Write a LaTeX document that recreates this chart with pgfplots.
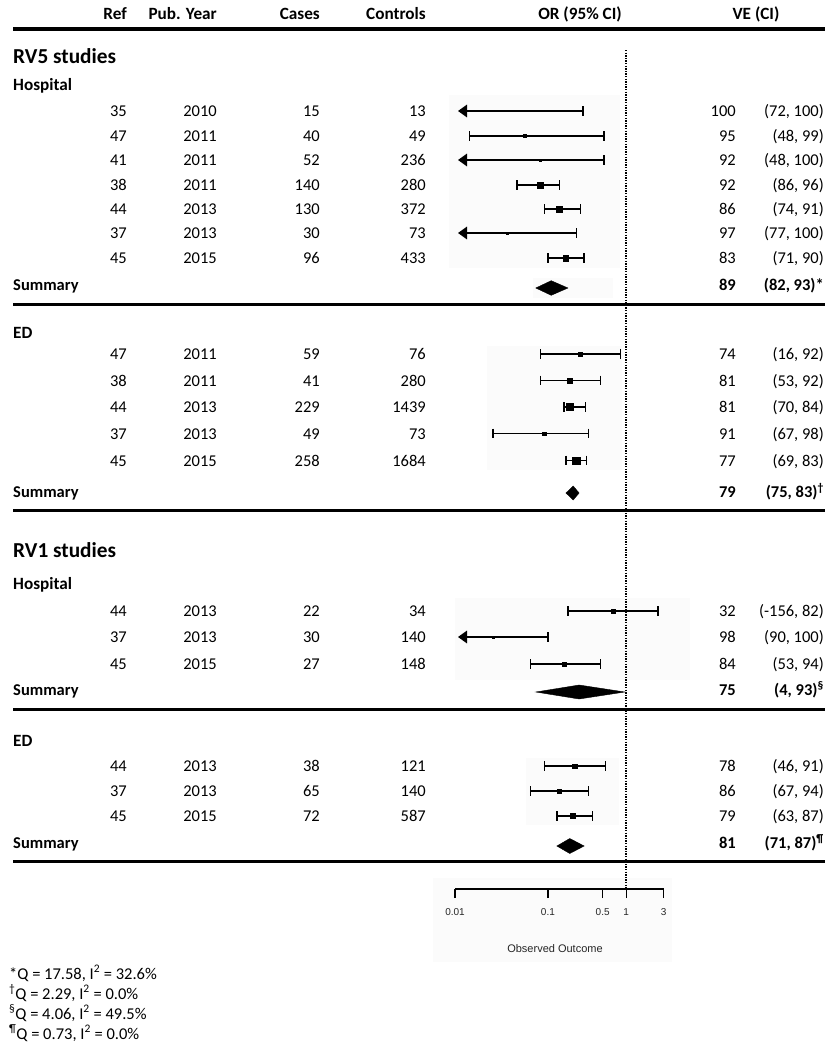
\documentclass[border=0pt]{standalone}
\usepackage{pgfplots}
\pgfplotsset{compat=1.18}
\usepackage{pgfplotstable}
\usepackage{fontspec}
\setmainfont{Carlito}
\newfontfamily\arialf{Liberation Sans}
\usetikzlibrary{arrows.meta}
\newcommand\fs{\fontsize{16.5}{19}\selectfont}
\newcommand\fh{\fontsize{17.2}{20}\selectfont\bfseries}

\pgfplotstableread{
or y ms
0.05 -136 1.6
0.08 -160 1.2
0.08 -185 2.7
0.14 -209 2.9
0.03 -233 1.2
0.17 -258 2.7
0.26 -354 2.1
0.19 -380.5 2.3
0.19 -407 3.5
0.09 -433.5 1.8
0.23 -460.5 3.6
0.68 -611 1.8
0.02 -637 1.2
0.16 -664 2.1
0.22 -766 2.3
0.14 -791 2.3
0.21 -816 2.5
}\pts

\newcommand\rw[7]{%
 \node[anchor=base east,inner sep=0] at (127,-#1) {#2};
 \node[anchor=base east,inner sep=0] at (217,-#1) {#3};
 \node[anchor=base east,inner sep=0] at (320,-#1) {#4};
 \node[anchor=base east,inner sep=0] at (426,-#1) {#5};
 \node[anchor=base east,inner sep=0] at (736,-#1) {#6};
 \node[anchor=base east,inner sep=0] at (824,-#1) {#7};}
\newcommand\summ[3]{%
 \node[anchor=base west,inner sep=0,font=\fs\bfseries] at (13,-#1) {Summary};
 \node[anchor=base east,inner sep=0,font=\fs\bfseries] at (736,-#1) {#2};
 \node[anchor=base east,inner sep=0,font=\fs\bfseries] at (824,-#1) {#3};}

\begin{document}
\begin{tikzpicture}[x=1pt,y=1pt,every node/.append style={font=\fs}]
\useasboundingbox (0,0) rectangle (834,-1050);
% faint panels
\fill[black!1.5] (449,-95) rectangle (620,-268);
\fill[black!1.5] (533,-278) rectangle (613,-298);
\fill[black!1.5] (487,-346) rectangle (622,-470);
\fill[black!1.5] (455,-598) rectangle (690,-680);
\fill[black!1.5] (526,-758) rectangle (619,-825);
\fill[black!1.5] (433,-878) rectangle (672,-962);
% rules
\draw[line width=4pt] (13,-29) -- (825,-29);
\draw[line width=3pt] (13,-304) -- (825,-304);
\draw[line width=3pt] (13,-510) -- (825,-510);
\draw[line width=3pt] (13,-709) -- (825,-709);
\draw[line width=3pt] (13,-861) -- (825,-861);
% headers
\node[anchor=base east,inner sep=0,font=\fh] at (127,-19.5) {Ref};
\node[anchor=base east,inner sep=0,font=\fh] at (217,-19.5) {Pub. Year};
\node[anchor=base east,inner sep=0,font=\fh] at (320,-19.5) {Cases};
\node[anchor=base east,inner sep=0,font=\fh] at (426,-19.5) {Controls};
\node[anchor=base,inner sep=0,font=\fh] at (580,-19.5) {OR (95\% CI)};
\node[anchor=base,inner sep=0,font=\fh] at (756,-19.5) {VE (CI)};
% section labels
\node[anchor=base west,inner sep=0,font=\fontsize{21.3}{24}\selectfont\bfseries] at (13,-63) {RV5 studies};
\node[anchor=base west,inner sep=0,font=\fh] at (13,-90) {Hospital};
\node[anchor=base west,inner sep=0,font=\fh] at (13,-338) {ED};
\node[anchor=base west,inner sep=0,font=\fontsize{21.3}{24}\selectfont\bfseries] at (13,-557) {RV1 studies};
\node[anchor=base west,inner sep=0,font=\fh] at (13,-589) {Hospital};
\node[anchor=base west,inner sep=0,font=\fh] at (13,-746.5) {ED};
% rows
\rw{116.5}{35}{2010}{15}{13}{100}{(72, 100)}
\rw{141.5}{47}{2011}{40}{49}{95}{(48, 99)}
\rw{165.5}{41}{2011}{52}{236}{92}{(48, 100)}
\rw{190.5}{38}{2011}{140}{280}{92}{(86, 96)}
\rw{214.5}{44}{2013}{130}{372}{86}{(74, 91)}
\rw{238.5}{37}{2013}{30}{73}{97}{(77, 100)}
\rw{263.5}{45}{2015}{96}{433}{83}{(71, 90)}
\summ{290.5}{89}{(82, 93)*}
\rw{359.5}{47}{2011}{59}{76}{74}{(16, 92)}
\rw{386}{38}{2011}{41}{280}{81}{(53, 92)}
\rw{412.5}{44}{2013}{229}{1439}{81}{(70, 84)}
\rw{439}{37}{2013}{49}{73}{91}{(67, 98)}
\rw{466}{45}{2015}{258}{1684}{77}{(69, 83)}
\summ{497.5}{79}{(75, 83)\textsuperscript{†}}
\rw{616.5}{44}{2013}{22}{34}{32}{(-156, 82)}
\rw{642.5}{37}{2013}{30}{140}{98}{(90, 100)}
\rw{669.5}{45}{2015}{27}{148}{84}{(53, 94)}
\summ{695.5}{75}{(4, 93)\textsuperscript{§}}
\rw{771.5}{44}{2013}{38}{121}{78}{(46, 91)}
\rw{796.5}{37}{2013}{65}{140}{86}{(67, 94)}
\rw{821.5}{45}{2015}{72}{587}{79}{(63, 87)}
\summ{848.5}{81}{(71, 87)\textsuperscript{¶}}
% footnotes
\node[anchor=base west,inner sep=0] at (9,-979) {*Q = 17.58, I\textsuperscript{2} = 32.6\%};
\node[anchor=base west,inner sep=0] at (9,-999) {\textsuperscript{†}Q = 2.29, I\textsuperscript{2} = 0.0\%};
\node[anchor=base west,inner sep=0] at (9,-1019) {\textsuperscript{§}Q = 4.06, I\textsuperscript{2} = 49.5\%};
\node[anchor=base west,inner sep=0] at (9,-1039) {\textsuperscript{¶}Q = 0.73, I\textsuperscript{2} = 0.0\%};
\node[font=\arialf\fontsize{11}{13}\selectfont, text=black!85] at (555,-949) {Observed Outcome};

\begin{axis}[at={(455pt,-1050pt)}, anchor=south west, scale only axis,
  width=208.6pt, height=1050pt, xmode=log, xmin=0.0065, xmax=3,
  ymin=-1050, ymax=0, hide axis, clip=false,
  ci/.style={black, line width=1.5pt, mark=|, mark options={line width=1.5pt, mark size=4.8pt}},
  arr/.style={black, line width=1.5pt, arrows={{Triangle[length=9pt,width=12.5pt]}-}, mark=|, mark indices={2}, mark options={arrows=-, line width=1.5pt, mark size=4.8pt}},
  dia/.style={fill=black, draw=black, line width=0.4pt}]
\addplot[black, line width=1.5pt, dash pattern=on 1.3pt off 1.3pt] coordinates {(1,-50) (1,-889)};
% RV5 hospital
\addplot[arr] coordinates {(0.0071,-111) (0.28,-111)};
\addplot[ci] coordinates {(0.01,-136) (0.52,-136)};
\addplot[arr] coordinates {(0.0071,-160) (0.52,-160)};
\addplot[ci] coordinates {(0.04,-185) (0.14,-185)};
\addplot[ci] coordinates {(0.09,-209) (0.26,-209)};
\addplot[arr] coordinates {(0.0071,-233) (0.23,-233)};
\addplot[ci] coordinates {(0.10,-258) (0.29,-258)};
\addplot[dia] coordinates {(0.07,-288) (0.11,-280.7) (0.18,-288) (0.11,-295.3)} -- cycle;
% RV5 ED
\addplot[ci] coordinates {(0.08,-354) (0.84,-354)};
\addplot[ci] coordinates {(0.08,-380.5) (0.47,-380.5)};
\addplot[ci] coordinates {(0.16,-407) (0.30,-407)};
\addplot[ci] coordinates {(0.02,-433.5) (0.33,-433.5)};
\addplot[ci] coordinates {(0.17,-460.5) (0.31,-460.5)};
\addplot[dia] coordinates {(0.17,-493) (0.21,-486) (0.25,-493) (0.21,-500)} -- cycle;
% RV1 hospital
\addplot[ci] coordinates {(0.18,-611) (2.56,-611)};
\addplot[arr] coordinates {(0.0071,-637) (0.10,-637)};
\addplot[ci] coordinates {(0.06,-664) (0.47,-664)};
\addplot[dia] coordinates {(0.07,-692) (0.25,-685) (0.96,-692) (0.25,-699)} -- cycle;
% RV1 ED
\addplot[ci] coordinates {(0.09,-766) (0.54,-766)};
\addplot[ci] coordinates {(0.06,-791) (0.33,-791)};
\addplot[ci] coordinates {(0.13,-816) (0.37,-816)};
\addplot[dia] coordinates {(0.13,-846) (0.19,-838.5) (0.29,-846) (0.19,-853.5)} -- cycle;
% point estimates
\addplot[scatter, only marks, mark=square*, draw=black, fill=black,
  scatter/use mapped color={draw=black,fill=black},
  visualization depends on={\thisrow{ms}\as\perms},
  scatter/@pre marker code/.append style={/tikz/mark size=\perms}]
  table[x=or,y=y] {\pts};
\end{axis}

\begin{axis}[at={(455pt,-889pt)}, anchor=south west, scale only axis,
  width=208.6pt, height=20pt, xmode=log, xmin=0.0065, xmax=3, ymin=0, ymax=1,
  axis x line*=bottom, axis y line=none,
  xtick={0.0065,0.1,0.5,1,3}, xticklabels={0.01,0.1,0.5,1,3}, minor xtick={},
  tick align=outside, major tick length=9pt,
  every tick/.style={black, line width=1.4pt},
  x axis line style={black, line width=1.4pt, -},
  xticklabel style={font=\arialf\fontsize{10}{12}\selectfont, text=black!85, yshift=-7pt}]
\addplot[draw=none] coordinates {(1,0.5)};
\end{axis}
\end{tikzpicture}
\end{document}
